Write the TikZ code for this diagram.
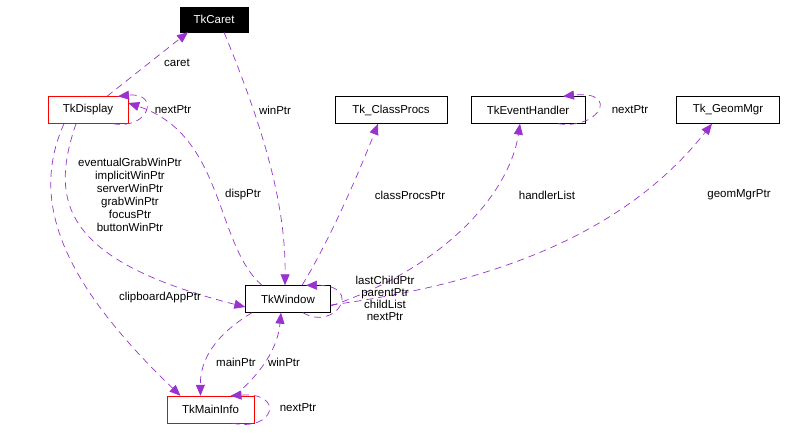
\documentclass[tikz,border=0pt]{standalone}
\usepackage{fontspec}
\setmainfont{Liberation Sans}
\usetikzlibrary{arrows.meta}
\definecolor{edgec}{HTML}{9A32CD}
\begin{document}
\begin{tikzpicture}[x=1pt,y=-1pt,
  box/.style={draw,rectangle,inner sep=0pt,minimum height=27pt,font=\fontsize{11.5}{13}\selectfont},
  lab/.style={font=\fontsize{11.5}{13}\selectfont,inner sep=0pt},
  e/.style={edgec,dash pattern=on 7pt off 5pt,line width=0.7pt,-{Triangle[length=11pt,width=9pt]}}]
\useasboundingbox (0,0) rectangle (805,435);
\node[box,fill=black,text=white,minimum width=68pt,minimum height=25pt] (caret) at (214,19.5) {TkCaret};
\node[box,draw=red,minimum width=80pt] (disp) at (88,110) {TkDisplay};
\node[box,minimum width=112pt] (cp) at (391,110) {Tk\_ClassProcs};
\node[box,minimum width=114pt] (eh) at (528,110) {TkEventHandler};
\node[box,minimum width=103pt] (gm) at (728,110) {Tk\_GeomMgr};
\node[box,minimum width=85pt] (win) at (288,299) {TkWindow};
\node[box,draw=red,minimum width=87pt] (mi) at (210.5,409.5) {TkMainInfo};
% caret
\draw[e] ([xshift=19pt]disp.north) -- ([xshift=-26pt]caret.south);
\node[lab] (l1) at (177,63) {caret};
% TkDisplay self loop
\draw[e] ([xshift=25pt]disp.south) .. controls (150,130) and (160,92) .. ([xshift=30pt]disp.north);
\node[lab] (l2) at (173,110) {nextPtr};
% winPtr from caret
\draw[e] ([xshift=10pt]caret.south) .. controls (260,120) and (286,200) .. ([xshift=-3pt]win.north);
\node[lab] (l3) at (275,110) {winPtr};
% dispPtr
\draw[e] ([xshift=-26pt]win.north) .. controls (215,245) and (225,135) .. ([yshift=7pt]disp.east);
\node[lab] (l4) at (243,195) {dispPtr};
% classProcs
\draw[e] ([xshift=14pt]win.north) .. controls (330,240) and (360,170) .. ([xshift=-13pt]cp.south);
\node[lab] (l5) at (410,195) {classProcsPtr};
% handlerList
\draw[e] ([yshift=-7pt]win.east) .. controls (450,265) and (510,190) .. ([xshift=-8pt]eh.south);
\node[lab] (l6) at (547,195) {handlerList};
% geomMgrPtr
\draw[e] ([yshift=-6pt]win.east) .. controls (480,285) and (620,240) .. ([xshift=-16pt]gm.south);
\node[lab] (l7) at (739,195) {geomMgrPtr};
% EventHandler self loop
\draw[e] ([xshift=30pt]eh.south) .. controls (600,130) and (620,90) .. ([xshift=35pt]eh.north);
\node[lab] (l8) at (630,110) {nextPtr};
% TkWindow self loop
\draw[e] ([xshift=15pt]win.south) .. controls (335,332) and (365,285) .. ([xshift=18pt]win.north);
\node[lab,align=center] (l9) at (385,298) {lastChildPtr\\[-1pt]parentPtr\\[-1pt]childList\\[-1pt]nextPtr};
% Display -> Window
\draw[e] ([xshift=-12pt]disp.south) .. controls (50,200) and (60,260) .. ([yshift=-8pt]win.west);
\node[lab,align=center] (l10) at (130,195) {eventualGrabWinPtr\\[0pt]implicitWinPtr\\[0pt]serverWinPtr\\[0pt]grabWinPtr\\[0pt]focusPtr\\[0pt]buttonWinPtr};
% clipboardAppPtr
\draw[e] ([xshift=-24pt]disp.south) .. controls (30,200) and (60,280) .. ([xshift=-30pt]mi.north);
\node[lab] (l11) at (160,298) {clipboardAppPtr};
% mainPtr
\draw[e] ([xshift=-36pt]win.south) .. controls (215,335) and (200,360) .. ([xshift=-10pt]mi.north);
\node[lab] (l12) at (236,362) {mainPtr};
% winPtr
\draw[e] ([xshift=24pt]mi.north) .. controls (265,370) and (278,345) .. ([xshift=-7pt]win.south);
\node[lab] (l13) at (284,362) {winPtr};
% MainInfo self loop
\draw[e] ([xshift=22pt]mi.south) .. controls (275,432) and (285,392) .. ([xshift=20pt]mi.north);
\node[lab] (l14) at (298,408) {nextPtr};
\end{tikzpicture}
\end{document}
